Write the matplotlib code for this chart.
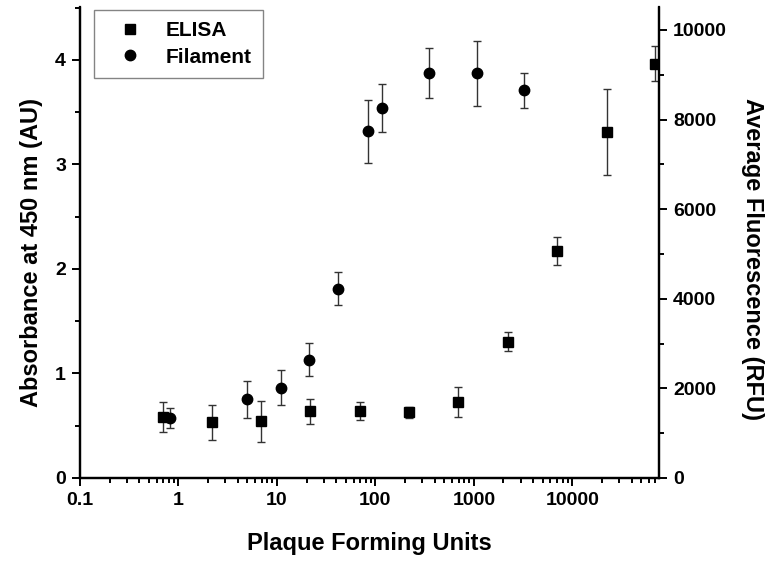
import matplotlib
matplotlib.use('Agg')
import matplotlib.pyplot as plt
from matplotlib.ticker import LogLocator, FuncFormatter, MultipleLocator, NullFormatter

plt.rcParams['font.family'] = ['Liberation Sans', 'DejaVu Sans']
plt.rcParams['font.weight'] = 'bold'

# ELISA (left axis, absorbance)
elisa_pfu = [0.69, 2.2, 6.96, 21.9, 69.3, 221, 696, 2223, 6995, 22500, 69600]
elisa_abs = [0.584, 0.532, 0.541, 0.638, 0.644, 0.628, 0.728, 1.305, 2.170, 3.31, 3.964]
elisa_err = [0.14, 0.17, 0.20, 0.12, 0.085, 0.05, 0.145, 0.09, 0.135, 0.41, 0.17]

# Filament (right axis, fluorescence)
fil_pfu = [0.83, 4.98, 10.9, 21, 41.8, 83.5, 117, 353, 1067, 3205]
fil_rfu = [1334, 1759, 2018, 2644, 4224, 7740, 8254, 9036, 9029, 8650]
fil_err = [224, 410, 384, 360, 370, 700, 540, 565, 725, 385]

fig = plt.figure(figsize=(7.7, 5.63), dpi=100)
ax = fig.add_axes([80 / 770, 1 - 478 / 563, 579 / 770, 470.5 / 563])
ax2 = ax.twinx()

ebar_kw = dict(ls='none', color='black', ecolor='#333333', elinewidth=1.0,
               capsize=3, capthick=1.0, markersize=7.5)
ax.errorbar(elisa_pfu, elisa_abs, yerr=elisa_err, marker='s', **ebar_kw)
ax2.errorbar(fil_pfu, fil_rfu, yerr=fil_err, marker='o', **ebar_kw)

ax.set_xscale('log')
ax.set_xlim(0.1, 7.6e4)
ax.set_ylim(0, 4.5)
ax2.set_ylim(0, 10500)

ax.xaxis.set_major_locator(LogLocator(base=10, numticks=10))
ax.xaxis.set_minor_locator(LogLocator(base=10, subs=range(2, 10), numticks=20))
ax.xaxis.set_major_formatter(FuncFormatter(lambda v, p: '%g' % v))
ax.xaxis.set_minor_formatter(NullFormatter())
ax.yaxis.set_major_locator(MultipleLocator(1))
ax.yaxis.set_minor_locator(MultipleLocator(0.5))
ax2.yaxis.set_major_locator(MultipleLocator(2000))
ax2.yaxis.set_minor_locator(MultipleLocator(1000))

for a in (ax, ax2):
    for s in a.spines.values():
        s.set_linewidth(1.6)
    a.spines['top'].set_visible(False)
    a.tick_params(which='major', length=6, width=1.4, labelsize=14, pad=4)
    a.tick_params(which='minor', length=3.5, width=1.4)
ax.tick_params(axis='y', which='both', right=False)
ax2.tick_params(axis='y', which='both', left=False)

ax.set_xlabel('Plaque Forming Units', fontsize=17, fontweight='bold')
ax.xaxis.set_label_coords(0.5, -0.115)
ax.set_ylabel('Absorbance at 450 nm (AU)', fontsize=17, fontweight='bold', labelpad=9)
ax.yaxis.label.set_y(0.48)
ax2.set_ylabel('Average Fluorescence (RFU)', fontsize=17, fontweight='bold',
               rotation=270, labelpad=27)
ax2.yaxis.label.set_y(0.465)

h1_leg = plt.Line2D([], [], ls='none', marker='s', color='black', markersize=7.5)
h2_leg = plt.Line2D([], [], ls='none', marker='o', color='black', markersize=7.5)
leg = ax2.legend([h1_leg, h2_leg], ['ELISA', 'Filament'], loc='upper left',
                 bbox_to_anchor=(0.024, 0.995), borderaxespad=0, fancybox=False,
                 prop={'size': 15, 'weight': 'bold'}, handletextpad=0.5,
                 borderpad=0.55, labelspacing=0.35, handlelength=2.4)
leg.get_frame().set_edgecolor('#666666')
leg.get_frame().set_linewidth(1.0)

fig.savefig('out.png', dpi=100)
